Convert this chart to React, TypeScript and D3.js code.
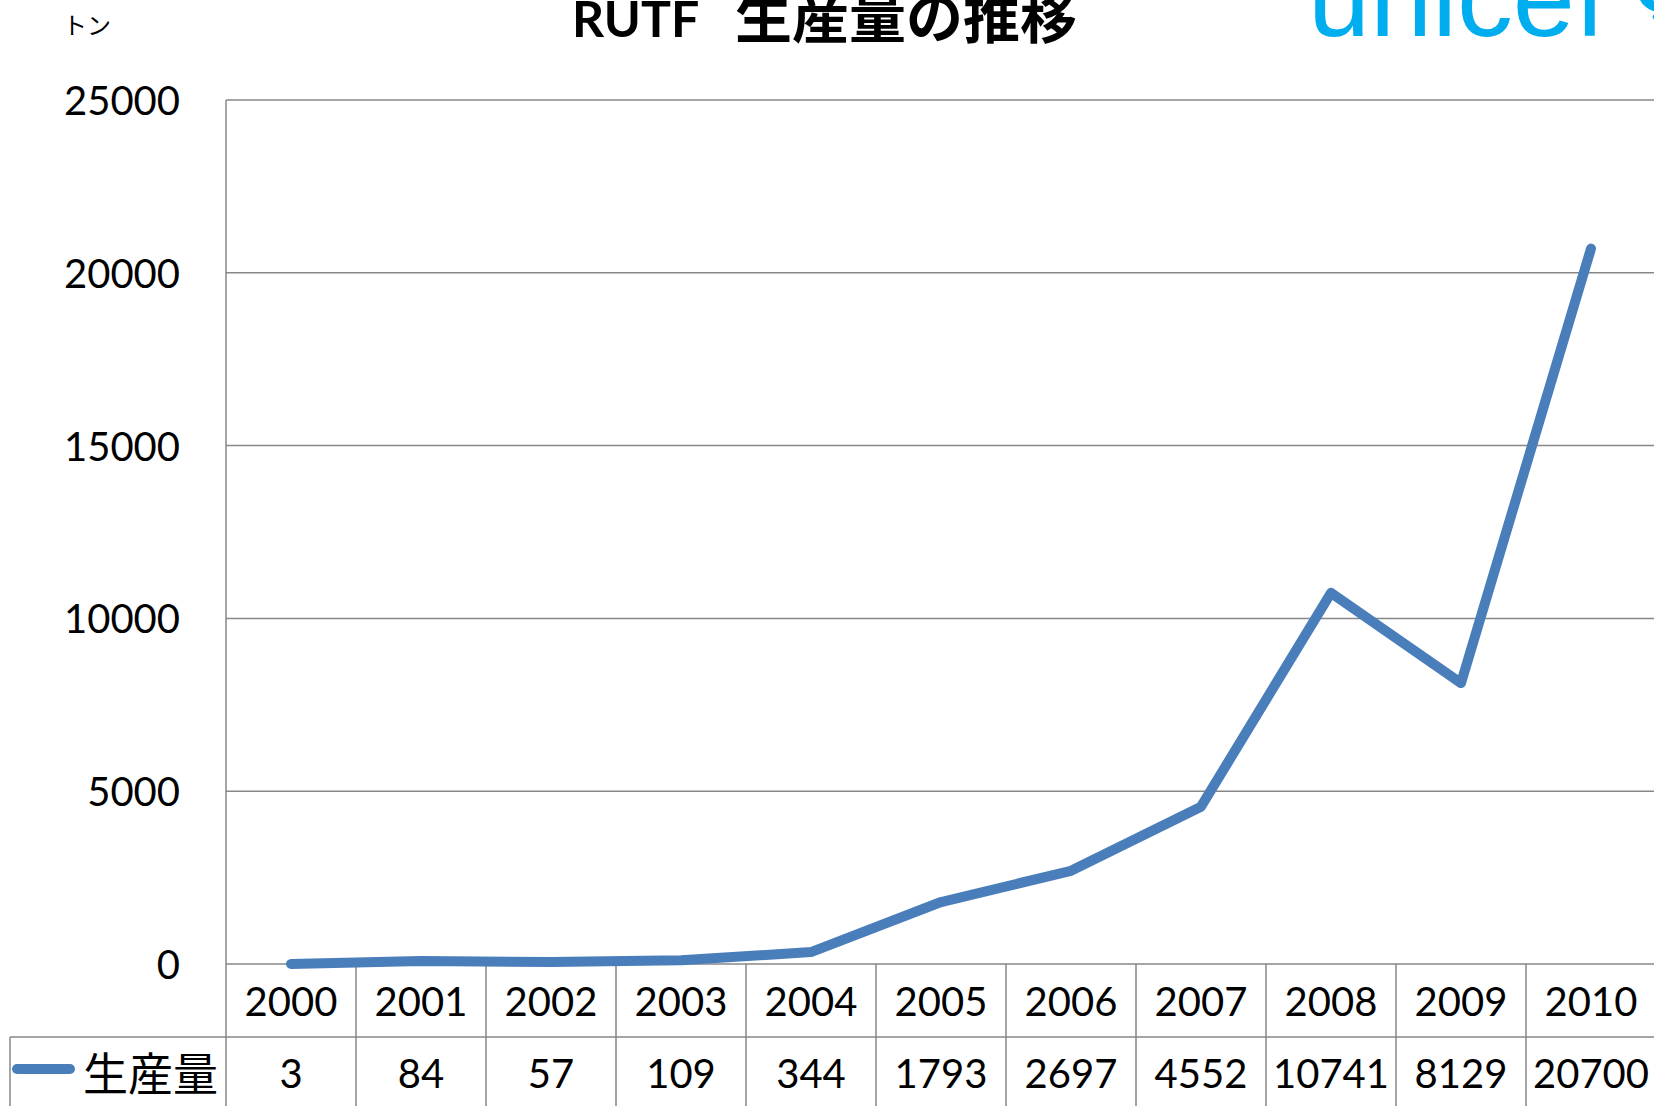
import { useEffect } from "react"
import * as d3 from "d3"

// data
const years = ["2000", "2001", "2002", "2003", "2004", "2005", "2006", "2007", "2008", "2009", "2010"]
const production = [3, 84, 57, 109, 344, 1793, 2697, 4552, 10741, 8129, 20700]
const yTicks = [0, 5000, 10000, 15000, 20000, 25000]
const seriesName = "生産量"
const title = "生産量の推移"
const unitLabel = "トン"

const W = 1654
const H = 1106
const numFont = "Lato, 'Liberation Sans', sans-serif"
const jpFont = "'Noto Sans CJK JP', sans-serif"
const gridColor = "#878787"
const lineColor = "#4A7EBB"
const logoColor = "#00AEEF"

export default function App() {
  useEffect(() => {
    document.body.style.margin = "0"
    document.body.style.overflow = "hidden"
  }, [])

  const x = d3.scaleBand<string>().domain(years).range([226, 1656]).padding(0)
  const y = d3.scaleLinear().domain([0, 25000]).range([964, 100])

  const line = d3
    .line<number>()
    .x((_, i) => (x(years[i]) ?? 0) + x.bandwidth() / 2)
    .y((d) => y(d))

  const rowTop = y(0)
  const rowMid = 1037
  const left = x.range()[0]

  // little wreath of the logo emblem, cut by the right/top edges
  const leafAngles = [100, 125, 150, 175]

  return (
    <svg width={W} height={H} viewBox={`0 0 ${W} ${H}`} style={{ display: "block", background: "#fff" }}>
      {/* gridlines */}
      {yTicks.map((t) => (
        <line key={t} x1={left} x2={W} y1={y(t)} y2={y(t)} stroke={gridColor} strokeWidth={1.5} />
      ))}
      {/* y axis line (continues into the data table) */}
      <line x1={left} x2={left} y1={y(25000)} y2={H} stroke={gridColor} strokeWidth={1.5} />

      {/* y tick labels */}
      {yTicks.map((t) => (
        <text
          key={"l" + t}
          x={180}
          y={y(t)}
          textAnchor="end"
          dominantBaseline="central"
          fontFamily={numFont}
          fontSize={40}
          fill="#000"
        >
          {t}
        </text>
      ))}

      {/* data table */}
      <line x1={10} x2={W} y1={rowMid} y2={rowMid} stroke={gridColor} strokeWidth={1.5} />
      <line x1={10} x2={10} y1={rowMid} y2={H} stroke={gridColor} strokeWidth={1.5} />
      {years.slice(1).map((yr) => (
        <line key={"c" + yr} x1={x(yr)} x2={x(yr)} y1={rowTop} y2={H} stroke={gridColor} strokeWidth={1.5} />
      ))}
      {years.map((yr, i) => (
        <g key={"t" + yr}>
          <text
            x={(x(yr) ?? 0) + x.bandwidth() / 2}
            y={1001}
            textAnchor="middle"
            dominantBaseline="central"
            fontFamily={numFont}
            fontSize={40}
          >
            {yr}
          </text>
          <text
            x={(x(yr) ?? 0) + x.bandwidth() / 2}
            y={1073}
            textAnchor="middle"
            dominantBaseline="central"
            fontFamily={numFont}
            fontSize={40}
          >
            {production[i]}
          </text>
        </g>
      ))}
      {/* legend key in table */}
      <line x1={17} x2={70} y1={1069} y2={1069} stroke={lineColor} strokeWidth={10} strokeLinecap="round" />
      <text x={218} y={1071} textAnchor="end" dominantBaseline="central" fontFamily={jpFont} fontSize={45}>
        {seriesName}
      </text>

      {/* series line */}
      <path
        d={line(production) ?? ""}
        fill="none"
        stroke={lineColor}
        strokeWidth={10}
        strokeLinecap="round"
        strokeLinejoin="round"
      />

      {/* unit label */}
      <text x={63} y={34} fontFamily={jpFont} fontSize={24}>
        {unitLabel}
      </text>

      {/* title */}
      <text x={572} y={37} fontWeight="bold" fill="#000" fontFamily={numFont} fontSize={50}>
        RUTF
      </text>
      <text x={735} y={38} fontWeight="bold" fill="#000" fontFamily={jpFont} fontSize={57}>
        {title}
      </text>

      {/* unicef logo, cropped at the top */}
      <text
        x={1308}
        y={36}
        fontFamily="'Liberation Sans', Arial, sans-serif"
        fontSize={112}
        textLength={298}
        lengthAdjust="spacingAndGlyphs"
        fill={logoColor}
      >
        unicef
      </text>
      <g transform="translate(1692,-22)">
        <circle r={40} fill="none" stroke={logoColor} strokeWidth={3} />
        {leafAngles.map((a) => (
          <ellipse
            key={a}
            rx={11}
            ry={5}
            fill={logoColor}
            transform={`rotate(${a}) translate(50,0) rotate(70)`}
          />
        ))}
      </g>
    </svg>
  )
}
